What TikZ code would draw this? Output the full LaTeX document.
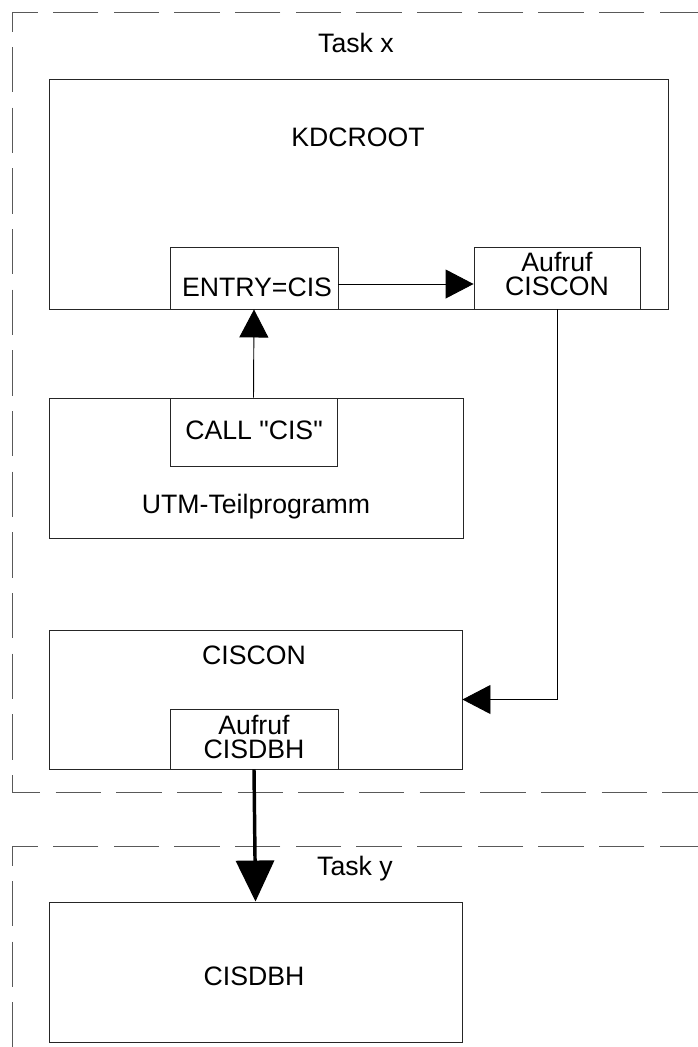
\documentclass[tikz,border=0pt]{standalone}
\usepackage{fontspec}
\newfontfamily\diagfont{Liberation Sans}
\usetikzlibrary{arrows.meta,fit}
\begin{document}
\begin{tikzpicture}[x=0.75pt,y=-0.75pt,
  box/.style={draw=black!85, line width=0.7pt, inner sep=0pt},
  txt/.style={font=\diagfont\fontsize{20}{18}\selectfont, inner sep=0pt, align=center},
  frame/.style={draw=black!65, line width=0.7pt, dash pattern=on 34pt off 11.5pt},
  arr/.style={draw=black, line width=0.7pt, -{Triangle[length=21pt,width=21.75pt]}},
  bigarr/.style={draw=black, line width=2.6pt, -{Triangle[length=30.75pt,width=28.5pt]}}
]
\useasboundingbox (0,0) rectangle (697,1047);
% task frames
\draw[frame] (705,12) -- (12,12) -- (12,792) -- (705,792);
\draw[frame] (705,846) -- (12,846) -- (12,1060);
\node[txt] (taskx) at (356,43) {Task x};
\node[txt] (tasky) at (355,869) {Task y};
% boxes
\node[box, fit={(49,79) (668,309)}] (kdc) {};
\node[txt] (kdclabel) at (358,137) {KDCROOT};
\node[box, fit={(170,247) (338,309)}] (entry) {};
\node[txt] (entrylabel) at (257,287) {ENTRY=CIS};
\node[box, fit={(474,247) (640,309)}] (aufcis) {};
\node[txt] (aufcislabel) at (557,274) {Aufruf\\CISCON};
\node[box, fit={(49,398) (463,538)}] (utm) {};
\node[box, fit={(170,398) (337,466)}] (call) {};
\node[txt] (calllabel) at (254,430) {CALL "CIS"};
\node[txt] (utmlabel) at (256,507) {UTM-Teilprogramm};
\node[box, fit={(49,630) (462,769)}] (ciscon) {};
\node[txt] (cisconlabel) at (254,655) {CISCON};
\node[box, fit={(170,709) (338,769)}] (aufdbh) {};
\node[txt] (aufdbhlabel) at (254,737) {Aufruf\\CISDBH};
\node[box, fit={(49,902) (462,1042)}] (cisdbh) {};
\node[txt] (cisdbhlabel) at (254,976) {CISDBH};
% connectors
\draw[arr] (call.north) -- (entry.south);
\draw[arr] ([yshift=-4.5pt]entry.east) -- ([yshift=-4.5pt]aufcis.west);
\draw[arr] (aufcis.south) -- (aufcis.south |- ciscon.east) -- (ciscon.east);
\draw[bigarr] (aufdbh.south) -- (cisdbh.north);
\end{tikzpicture}
\end{document}
